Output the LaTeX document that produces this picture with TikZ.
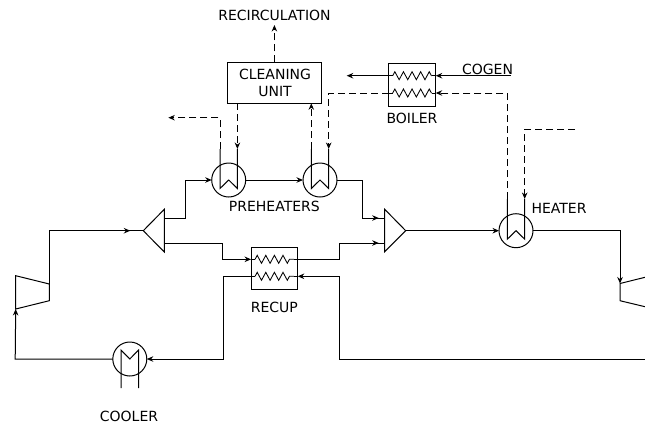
\documentclass[tikz,border=0pt]{standalone}
\usepackage{fontspec}
\setmainfont{DejaVu Sans}
\usetikzlibrary{arrows.meta, decorations.pathmorphing, decorations.markings}

\tikzset{
  tip/.style={-{Stealth[length=6.5pt,width=5.5pt]}},
  line/.style={line width=1pt, line join=miter},
  steam/.style={line, dash pattern=on 7pt off 4pt},
  hx/.style={circle, draw, line width=1pt, minimum size=34pt, inner sep=0pt, outer sep=0pt},
  unit/.style={rectangle, draw, line width=1pt, inner sep=0pt, outer sep=0pt},
  lbl/.style={font=\fontsize{14}{17}\selectfont, align=center, inner sep=0pt},
  coil/.style={line width=0.85pt, decorate, decoration={zigzag, amplitude=4pt, segment length=8.6pt}},
  tipback/.style={postaction={decorate}, decoration={markings,
      mark=at position -#1 with {\arrow{Stealth[length=6.5pt,width=5.5pt]}}}}
}

\begin{document}
\begin{tikzpicture}[x=1pt, y=-1pt]
  \useasboundingbox (0,0) rectangle (645,424);

  % Heat exchangers with the tube inside
  \foreach \n/\cx/\cy/\ty in {ph1/228.7/180/149, ph2/320/180/149, heater/516/230.7/199} {
    \node[hx] (\n) at (\cx,\cy) {};
    \coordinate (\n l) at (\cx-8.7,\ty);
    \coordinate (\n r) at (\cx+8.7,\ty);
    \draw[line] (\n l) -- (\cx-8.7,\cy+8.5) -- (\cx,\cy) -- (\cx+8.7,\cy+8.5) -- (\n r);
  }

  % Cooler
  \node[hx] (cooler) at (129.8,359) {};
  \draw[line] (121,388) -- (121,350) -- (129.8,359) -- (138.5,350) -- (138.5,388);

  % Boxes
  \node[unit, minimum width=93.3pt, minimum height=41pt] (cleaning) at (274.4,82.8) {};
  \node[lbl] (cleaningtext) at (275,83) {CLEANING\\UNIT};
  \node[unit, minimum width=47pt, minimum height=42.3pt] (boiler) at (412.2,84.9) {};
  \node[unit, minimum width=46.7pt, minimum height=42.3pt] (recup) at (274.4,268.2) {};

  % Coils
  \foreach \b/\ya/\yb in {boiler/75.7/93, recup/259.3/276.3} {
    \coordinate (\b al) at (\b.west |- 0,\ya);
    \coordinate (\b ar) at (\b.east |- 0,\ya);
    \coordinate (\b bl) at (\b.west |- 0,\yb);
    \coordinate (\b br) at (\b.east |- 0,\yb);
    \draw[line] (\b al) -- ++(4,0) ++(-4,0) (\b ar) -- ++(-4,0);
    \draw[line] (\b bl) -- ++(4,0) ++(-4,0) (\b br) -- ++(-4,0);
    \draw[coil] ([xshift=4pt]\b al) -- ([xshift=-4pt]\b ar);
    \draw[coil] ([xshift=4pt]\b bl) -- ([xshift=-4pt]\b br);
  }

  % Splitter and mixer
  \coordinate (sptip) at (143.3,230.7);
  \coordinate (sptop) at (164.3,218);
  \coordinate (spbot) at (164.3,243.3);
  \draw[line] (sptip) -- (164.3,209.3) -- (164.3,252) -- cycle;
  \coordinate (mxtip) at (405.7,230.7);
  \coordinate (mxtop) at (384.7,218);
  \coordinate (mxbot) at (384.7,243);
  \draw[line] (mxtip) -- (384.7,209.3) -- (384.7,251.7) -- cycle;

  % Compressor and turbine
  \coordinate (cpin) at (15.7,309);
  \coordinate (cpout) at (49.3,284);
  \draw[line] (cpin) -- (15.7,275.7) -- (cpout) -- (49.3,300.7) -- cycle;
  \coordinate (tbin) at (620,283.5);
  \draw[line] (645,277.3) -- (tbin) -- (620,300.7) -- (645,306.7);

  % Main loop
  \draw[line, tipback=13pt] (cpout) -- (49.3,230.7) -- (sptip);
  \draw[line, tip] (sptop) -- (185.7,218) -- (185.7,180) -- (ph1.west);
  \draw[line, tip] (ph1.east) -- (ph2.west);
  \draw[line, tipback=6pt] (ph2.east) -- (362,180) -- (362,218) -- (mxtop);
  \draw[line, tip] (spbot) -- (222.7,243.3) -- (222.7,259.3) -- (recupal);
  \draw[line, tipback=6pt] (recupar) -- (339.7,259.3) -- (339.7,243) -- (mxbot);
  \draw[line, tip] (mxtip) -- (heater.west);
  \draw[line, tip] (heater.east) -- (620,230.7) -- (tbin);
  \draw[line, tip] (645,359) -- (339.7,359) -- (339.7,276.3) -- (recupbr);
  \draw[line, tip] (recupbl) -- (223.5,276.3) -- (223.5,359) -- (cooler.east);
  \draw[line, tip] (cooler.west) -- (15.2,359) -- (cpin);

  % Steam side
  \draw[steam, tip] (cleaning.north) -- (274.4,25);
  \draw[steam, tip] (ph1r |- cleaning.south) -- (ph1r);
  \draw[steam, tip] (ph1l) -- (220,117.7) -- (168.3,117.7);
  \draw[steam, tip] (ph2l) -- (ph2l |- cleaning.south);
  \draw[steam, tip] (boilerbl) -- (ph2r |- boilerbl) -- (ph2r);
  \draw[steam, tip] (heaterl) -- (heaterl |- boilerbr) -- (boilerbr);
  \draw[steam, tip] (575,129.3) -- (heaterr |- 0,129.3) -- (heaterr);
  \draw[line, tip] (511,75.7) -- (boilerar);
  \draw[line, tip] (boileral) -- (346.7,75.7);

  % Labels
  \node[lbl] (recirc) at (274.5,15) {RECIRCULATION};
  \node[lbl] (cogen) at (487.5,69) {COGEN};
  \node[lbl] (boilerlabel) at (412,118) {BOILER};
  \node[lbl] (preheaters) at (274.3,206) {PREHEATERS};
  \node[lbl] (heaterlabel) at (559,208.5) {HEATER};
  \node[lbl] (recuplabel) at (274.3,307) {RECUP};
  \node[lbl] (coolerlabel) at (129,416) {COOLER};
\end{tikzpicture}
\end{document}
